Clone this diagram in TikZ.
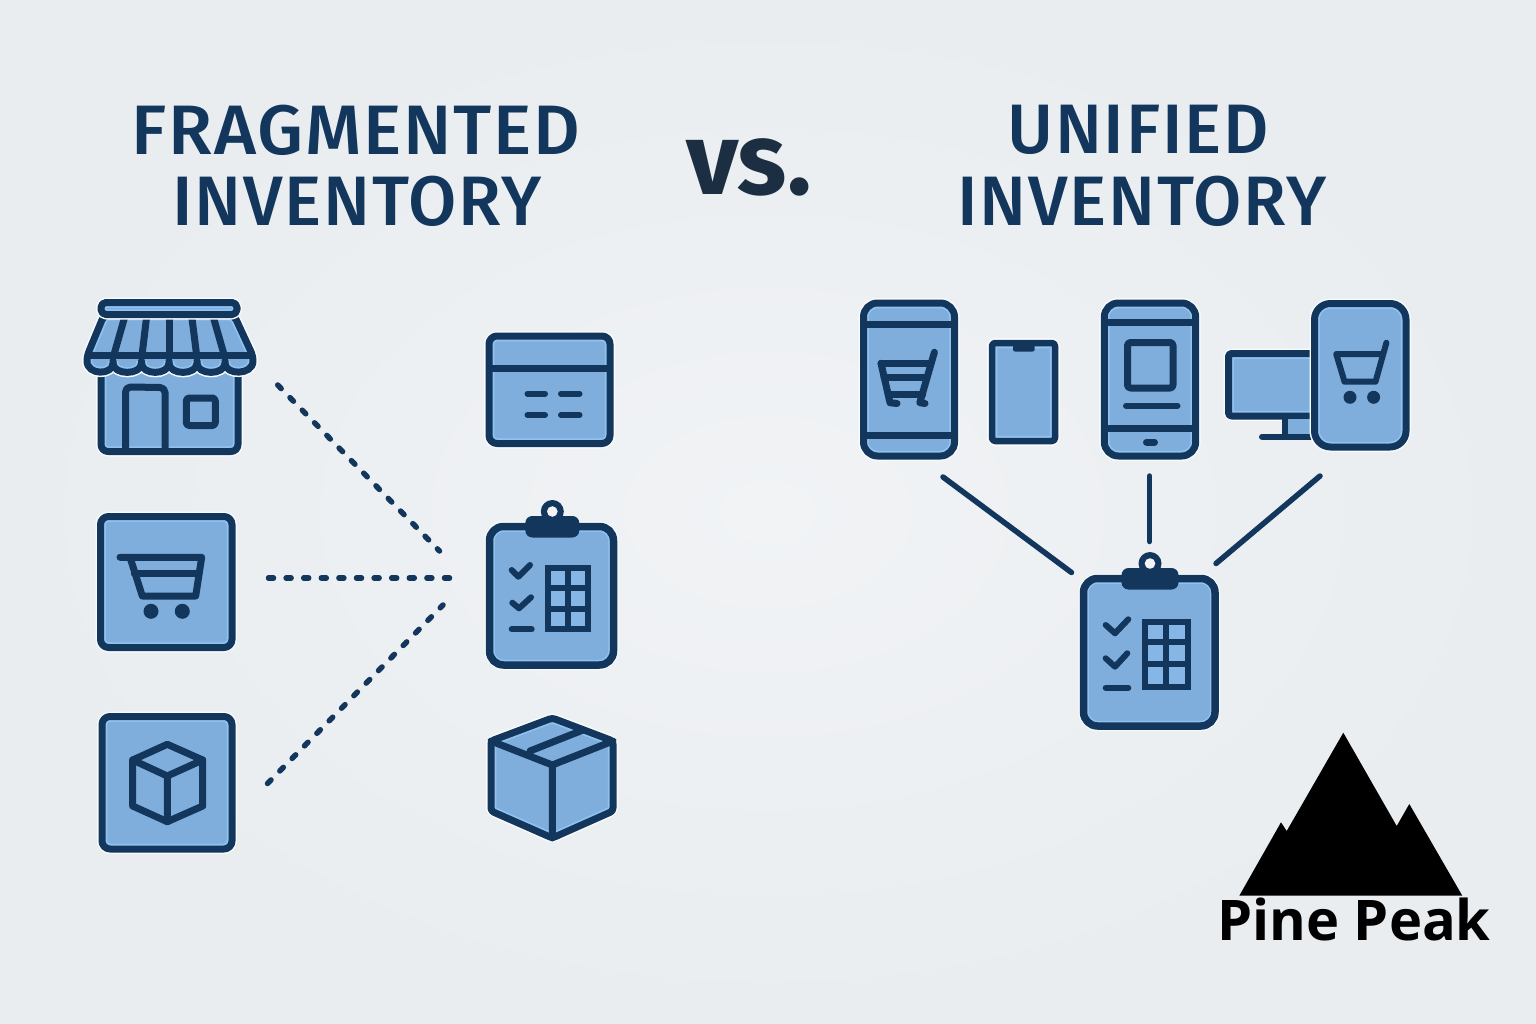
\documentclass[tikz,border=0pt]{standalone}
\usepackage{fontspec}
\setmainfont{Fira Sans}
\newfontfamily\titlef[LetterSpace=2.5,UprightFont=* Medium]{Fira Sans}
\newfontfamily\versusf{Fira Sans}
\newfontfamily\logof{Open Sans}
\definecolor{iconblue}{HTML}{7FAEDC}
\definecolor{lite}{HTML}{90C2F0}
\definecolor{gridcell}{HTML}{86B6E6}
\definecolor{dark}{HTML}{12365C}
\definecolor{vstext}{HTML}{1C2F42}
\definecolor{bgin}{HTML}{F1F3F5}
\definecolor{bgout}{HTML}{E9EDF0}
\definecolor{halo}{HTML}{F8FAFB}
\tikzset{
  stk/.style={draw=dark,line width=7,line cap=round,line join=round},
  thin stk/.style={draw=dark,line width=6,line cap=round,line join=round},
  link/.style={line cap=round,draw=dark,line width=5.5},
  dotlink/.style={line cap=round,dash pattern=on 5pt off 12.6pt,draw=dark,line width=5.5},
  titlenode/.style={text=dark,inner sep=0,align=center,font=\titlef\fontsize{70}{71}\selectfont},
}
\newcommand\ico[3][7]{%
  \path[draw=halo,line width=10,rounded corners=#2,line join=round] #3;
  \path[fill=iconblue,rounded corners=#2] #3;
  \begin{scope}\path[clip,rounded corners=#2] #3;
  \path[draw=lite,line width=10.5,rounded corners=#2] #3;\end{scope}
  \path[draw=dark,line width=#1,rounded corners=#2,line join=round] #3;}
\newcommand\clipboard[7]{% x0 x1 y0 y1 clip half-width, cx, clip y-top
  \ico[7.5]{14}{(#1,#3) rectangle (#2,#4)}
  \fill[dark,rounded corners=7] (#6-#5,#7) rectangle (#6+#5,#7+21.5);
  \fill[dark] (#6,#7-4.5) circle (11.5);
  \fill[bgin] (#6,#7-4.5) circle (5.3);}
\begin{document}
\begin{tikzpicture}[x=1pt,y=-1pt]
\shade[inner color=bgin,outer color=bgout] (0,0) rectangle (1536,1024);
\useasboundingbox (0,0) rectangle (1536,1024);

% titles
\node[titlenode,xscale=1.03] (t1) at (356,130) {FRAGMENTED};
\node[titlenode] (t2) at (357,201) {INVENTORY};
\node[titlenode] (t3) at (1138,130) {UNIFIED};
\node[titlenode] (t4) at (1142,201) {INVENTORY};
\node[inner sep=0,text=vstext,font=\versusf\bfseries\fontsize{102}{102}\selectfont] (vs) at (749,167) {vs.};

% --- store
\ico{7}{(101,368) -- (101,451.5) -- (238,451.5) -- (238,368) -- cycle}
\draw[stk] (125.5,451) -- (125.5,392) arc (180:270:5) -- (160,387.5) arc (270:360:5) -- (165,451);
\draw[stk,rounded corners=3] (186.3,398) rectangle (215.3,425.5);
\ico{5}{(104,315) -- (234,315) -- (253,356) .. controls (253,375.5) and (225,375.5) .. (225,358)
  .. controls (225,375.5) and (197,375.5) .. (197,358) .. controls (197,375.5) and (169,375.5) .. (169,358)
  .. controls (169,375.5) and (141.5,375.5) .. (141.5,358) .. controls (141.5,375.5) and (113,375.5) .. (113,358)
  .. controls (113,375.5) and (87,375.5) .. (87,356) -- cycle}
\draw[stk,line cap=butt] (87,355.5) -- (253,355.5);
\foreach \a/\b in {125/113,146.7/141.7,169/169,191.7/197,213/225}
  \draw[stk,line cap=butt] (\a,316) -- (\b,358);
\ico{5}{(101,302.5) rectangle (237,314.5)}

% --- cart square
\ico{8}{(100.5,516.5) rectangle (232,647.5)}
\draw[stk] (120,557.3) -- (201.7,557.3) -- (195.7,596) -- (142.3,596) -- (130,557.3);
\draw[stk] (134.3,573.5) -- (198.3,573.5);
\fill[dark] (151,611.3) circle (7.5) (182.3,611.3) circle (7.5);

% --- cube square
\ico{8}{(102,716.5) rectangle (232,849)}
\draw[stk] (167.3,744.3) -- (202.7,760) -- (202.7,806) -- (167.3,821.7) -- (132.7,806) -- (132.7,760) -- cycle;
\draw[stk] (132.7,760) -- (167.3,776) -- (202.7,760) (167.3,776) -- (167.3,821.7);

% --- card
\ico{8}{(489,336) rectangle (610,443.5)}
\draw[stk,line cap=butt] (489,368.3) -- (610,368.3);
\foreach \yy in {393.7,415} {
  \draw[thin stk] (527.5,\yy) -- (545,\yy);
  \draw[thin stk] (561,\yy) -- (579.5,\yy);
}

% --- clipboard left
\clipboard{489.5}{613.5}{526.5}{665}{27}{552.3}{516}
\draw[thin stk] (511.7,570) -- (518.3,576.7) -- (530,565);
\draw[thin stk] (512.3,602.7) -- (519,608.3) -- (531,597.3);
\draw[thin stk] (511.7,629.3) -- (531.7,629.3);
\draw[thin stk,fill=gridcell,line join=miter] (548,568) rectangle (588,629);
\draw[thin stk,line cap=butt] (568.3,568) -- (568.3,629) (548,587.7) -- (588,587.7) (548,609) -- (588,609);

% --- box
\ico{3}{(552.3,718) -- (613,741) -- (613,811) -- (552.3,838) -- (491,811) -- (491,741) -- cycle}
\draw[stk] (491,741) -- (552.3,765) -- (613,741) (552.3,765) -- (552.3,838) (530,751) -- (583,730);

% --- phone 1
\ico{14}{(863.5,303) rectangle (954.5,456)}
\draw[stk,line cap=butt] (863.5,324) -- (954.5,324) (863.5,435.7) -- (954.5,435.7);
\draw[stk] (934.4,352.3) -- (919.8,402.7) -- (925,403.5);
\draw[stk] (881,363.3) -- (930.7,363.3);
\draw[stk] (881,363.3) -- (890,402.7) -- (897,403.5);
\draw[stk] (884,377.7) -- (926.4,377.7);
\draw[stk] (888.2,394) -- (922.7,394);

% --- phone 2
\ico[6.5]{3}{(992,343) rectangle (1055,441)}
\fill[dark,rounded corners=2] (1013,342) rectangle (1034.7,351.5);

% --- phone 3
\ico{14}{(1104.3,303) rectangle (1195.7,456)}
\draw[stk,line cap=butt] (1104.3,322.3) -- (1195.7,322.3) (1104.3,428.7) -- (1195.7,428.7);
\draw[stk,rounded corners=3] (1127.5,342.5) rectangle (1173,388);
\draw[thin stk] (1126,405.7) -- (1177.5,405.7);
\draw[stk] (1146.5,442) -- (1154.5,442);

% --- monitor + phone 4
\ico[7]{3}{(1228.5,353.5) rectangle (1325,416)}
\fill[iconblue] (1285,419) rectangle (1320,434);
\draw[thin stk] (1285.3,416) -- (1285.3,436.7);
\draw[thin stk] (1262,436.7) -- (1320,436.7);
\ico{16}{(1314.5,303.5) rectangle (1406,447)}
\draw[thin stk] (1386.4,342.7) -- (1375.5,381.7) -- (1344.5,381.7) -- (1336.2,354) -- (1382.7,354);
\fill[dark] (1350,397.3) circle (6.5) (1373.6,397.3) circle (6.5);

% --- clipboard right
\clipboard{1083.5}{1215}{578.5}{726}{28.5}{1150}{568}
\draw[thin stk] (1105.7,625) -- (1115,633.3) -- (1128.3,619.3);
\draw[thin stk] (1105.7,658.3) -- (1115,666.7) -- (1127.3,653.3);
\draw[thin stk] (1105.7,687.7) -- (1128.3,687.7);
\draw[thin stk,fill=gridcell,line join=miter] (1145.3,622.3) rectangle (1187.7,687);
\draw[thin stk,line cap=butt] (1166,622.3) -- (1166,687) (1145.3,641.7) -- (1187.7,641.7) (1145.3,664) -- (1187.7,664);

% --- connectors
\coordinate (storeOut) at (277.7,385);
\coordinate (cartOut) at (268.5,578);
\coordinate (cubeOut) at (267.5,783.5);
\coordinate (hubA) at (439.5,551);
\coordinate (hubB) at (451,578);
\coordinate (hubC) at (443,605);
\draw[dotlink] (storeOut) -- (hubA);
\draw[dotlink] (cartOut) -- (hubB);
\draw[dotlink] (cubeOut) -- (hubC);
\coordinate (phoneOne) at (943,477);
\coordinate (phoneThree) at (1149.6,476);
\coordinate (phoneFour) at (1320,476);
\coordinate (boardA) at (1071.5,572.5);
\coordinate (boardB) at (1149.6,541.5);
\coordinate (boardC) at (1216,563.5);
\draw[link] (phoneOne) -- (boardA);
\draw[link] (phoneThree) -- (boardB);
\draw[link] (phoneFour) -- (boardC);

% --- logo
\fill[black] (1239.3,895.7) -- (1281,822.3) -- (1286.7,831) -- (1343.3,732.7) -- (1396.7,826) -- (1409.3,804) -- (1462.3,895.7) -- cycle;
\node[inner sep=0,text=black,font=\logof\bfseries\fontsize{56}{56}\selectfont,anchor=base] (logo) at (1354,940.5) {Pine Peak};
\end{tikzpicture}
\end{document}
